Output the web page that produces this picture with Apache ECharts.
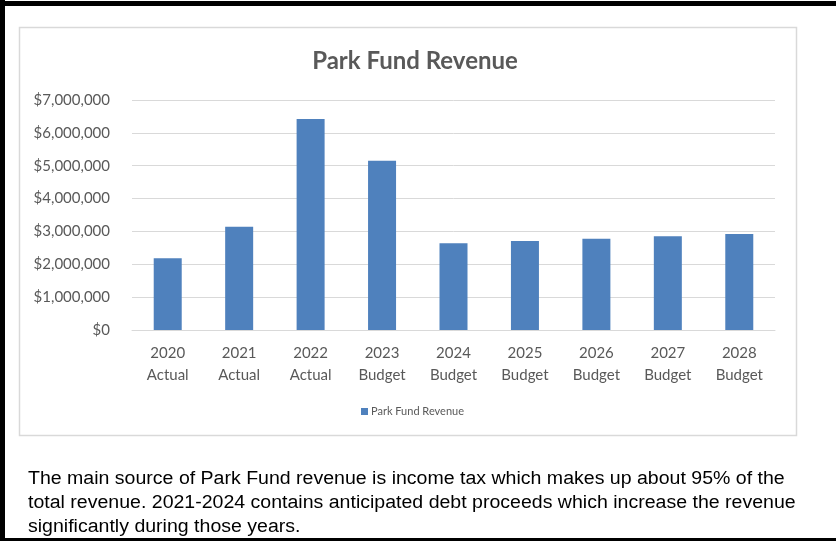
<!DOCTYPE html>
<html>
<head>
<meta charset="utf-8">
<script src="https://cdn.jsdelivr.net/npm/echarts@6/dist/echarts.min.js"></script>
<style>
  html, body { margin: 0; padding: 0; background: #ffffff; }
  #chart { width: 836px; height: 541px; }
</style>
</head>
<body>
<div id="chart"></div>
<script>
// Park Fund revenue by year
const categories = ['2020\nActual', '2021\nActual', '2022\nActual', '2023\nBudget', '2024\nBudget',
                    '2025\nBudget', '2026\nBudget', '2027\nBudget', '2028\nBudget'];
const revenue = [2180000, 3145000, 6420000, 5150000, 2640000, 2710000, 2780000, 2850000, 2920000];
const seriesName = 'Park Fund Revenue';
const chartTitle = 'Park Fund Revenue';
const noteLines = [
  'The main source of Park Fund revenue is income tax which makes up about 95% of the',
  'total revenue. 2021-2024 contains anticipated debt proceeds which increase the revenue',
  'significantly during those years.'
];

const axisFont = 'Lato, "Open Sans", sans-serif';
const textGrey = '#595959';

const chart = echarts.init(document.getElementById('chart'), null, { renderer: 'canvas' });

function money(v) {
  return '$' + v.toLocaleString('en-US');
}

const graphics = [
  // chart frame
  { type: 'rect', silent: true, z: -1,
    shape: { x: 19.5, y: 27.5, width: 777, height: 408 },
    style: { fill: '#ffffff', stroke: '#d9d9d9', lineWidth: 1.5 } },
  // outer black frame: top, left, bottom
  { type: 'rect', silent: true, shape: { x: 0, y: 1, width: 836, height: 5 }, style: { fill: '#000' } },
  { type: 'rect', silent: true, shape: { x: 0, y: 0, width: 5, height: 541 }, style: { fill: '#000' } },
  { type: 'rect', silent: true, shape: { x: 0, y: 538, width: 836, height: 3 }, style: { fill: '#000' } }
];
// explanatory note under the chart
noteLines.forEach(function (line, i) {
  graphics.push({
    type: 'text', silent: true,
    x: 28, y: 479.5 + i * 24,
    scaleX: 1.085,
    style: {
      text: line,
      font: '18px "Liberation Sans", Arial, sans-serif',
      fill: '#000000',
      verticalAlign: 'middle'
    }
  });
});

chart.setOption({
  animation: false,
  backgroundColor: '#ffffff',
  title: {
    text: chartTitle,
    left: 410, top: 44, textAlign: 'center',
    textStyle: { fontFamily: axisFont, fontSize: 24, fontWeight: 'bold', color: textGrey }
  },
  legend: {
    data: [seriesName],
    left: 356, top: 401,
    icon: 'rect', itemWidth: 7, itemHeight: 7, itemGap: 4,
    textStyle: { fontFamily: axisFont, fontSize: 11, color: textGrey, padding: [0, 0, 0, -2] }
  },
  grid: { left: 132, right: 61, top: 100, bottom: 211, containLabel: false },
  xAxis: {
    type: 'category',
    data: categories,
    axisLine: { show: true, lineStyle: { color: '#d9d9d9', width: 1 } },
    axisTick: { show: false },
    axisLabel: {
      margin: 12, fontFamily: axisFont, fontSize: 15, color: textGrey, lineHeight: 22
    }
  },
  yAxis: {
    type: 'value',
    min: 0, max: 7000000, interval: 1000000,
    axisLine: { show: false },
    axisTick: { show: false },
    splitLine: { lineStyle: { color: '#d9d9d9', width: 1 } },
    axisLabel: {
      margin: 22, fontFamily: axisFont, fontSize: 15, color: textGrey,
      formatter: money
    }
  },
  series: [{
    name: seriesName,
    type: 'bar',
    data: revenue,
    barWidth: 28,
    itemStyle: { color: '#4f81bd' }
  }],
  graphic: graphics
});
</script>
</body>
</html>
